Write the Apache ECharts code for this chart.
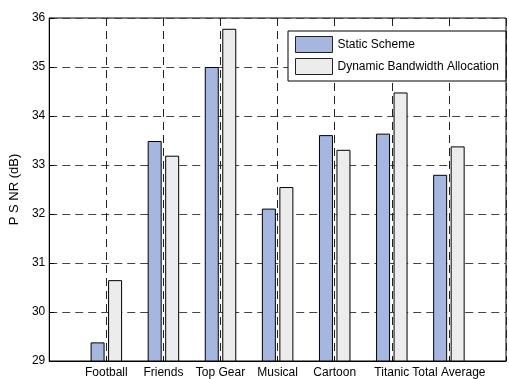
<!DOCTYPE html>
<html>
<head>
<meta charset="utf-8">
<script src="https://cdn.jsdelivr.net/npm/echarts@6/dist/echarts.min.js"></script>
<style>
  html, body { margin: 0; padding: 0; background: #fff; }
  #chart { width: 509px; height: 379px; }
</style>
</head>
<body>
<div id="chart"></div>
<script>
// Video clips and average PSNR per scheme
const categories = ['Football', 'Friends', 'Top Gear', 'Musical', 'Cartoon', 'Titanic', 'Total Average'];
const staticScheme = [29.38, 33.49, 35.0, 32.11, 33.61, 33.64, 32.80];
const dynamicAllocation = [30.65, 33.19, 35.78, 32.55, 33.31, 34.48, 33.38];
const seriesNames = ['Static Scheme', 'Dynamic Bandwidth Allocation'];
const yTicks = [29, 30, 31, 32, 33, 34, 35, 36];

const font = 'Liberation Sans, Arial, sans-serif';
const toPoints = arr => arr.map((v, i) => [i + 1, v]);

const chart = echarts.init(document.getElementById('chart'), null, { renderer: 'canvas' });
chart.setOption({
  animation: false,
  backgroundColor: '#fff',
  grid: {
    left: 49, top: 18, bottom: 17, right: -9,
    show: true, borderColor: '#000', borderWidth: 1, backgroundColor: 'transparent'
  },
  legend: {
    orient: 'vertical',
    left: 288, top: 31,
    padding: [5, 7, 6, 7],
    itemGap: 5,
    itemWidth: 37, itemHeight: 16,
    icon: 'rect',
    itemStyle: { borderColor: '#222', borderWidth: 1 },
    backgroundColor: '#fff',
    borderColor: '#000', borderWidth: 1,
    textStyle: { fontFamily: font, fontSize: 12, color: '#000' },
    data: seriesNames
  },
  xAxis: {
    type: 'value',
    min: 0, max: 8, interval: 1,
    axisLine: { show: true, lineStyle: { color: '#000', width: 1 } },
    axisTick: { show: true, inside: true, length: 4, lineStyle: { color: '#000' } },
    axisLabel: {
      fontFamily: font, fontSize: 12, color: '#000', margin: 6,
      formatter: v => (v >= 1 && v <= categories.length) ? categories[v - 1] : ''
    },
    splitLine: { show: true, lineStyle: { color: '#222', type: [8, 5], width: 1 } }
  },
  yAxis: {
    type: 'value',
    min: yTicks[0], max: yTicks[yTicks.length - 1], interval: 1,
    name: 'P S NR (dB)',
    nameLocation: 'middle',
    nameGap: 22,
    nameRotate: 90,
    nameTextStyle: { fontFamily: font, fontSize: 13, color: '#000' },
    axisLine: { show: true, lineStyle: { color: '#000', width: 1 } },
    axisTick: { show: true, inside: true, length: 5, lineStyle: { color: '#000' } },
    axisLabel: { fontFamily: font, fontSize: 12, color: '#000', margin: 4 },
    splitLine: { show: true, lineStyle: { color: '#444', type: [8, 5], width: 1 } }
  },
  series: [
    {
      name: seriesNames[0], type: 'bar',
      barWidth: 14, barGap: '25%',
      itemStyle: { color: '#A5B6E0', borderColor: '#000', borderWidth: 1 },
      data: toPoints(staticScheme)
    },
    {
      name: seriesNames[1], type: 'bar',
      barWidth: 14, barGap: '25%',
      itemStyle: { color: '#ECECEC', borderColor: '#000', borderWidth: 1 },
      data: toPoints(dynamicAllocation)
    }
  ]
});
</script>
</body>
</html>
